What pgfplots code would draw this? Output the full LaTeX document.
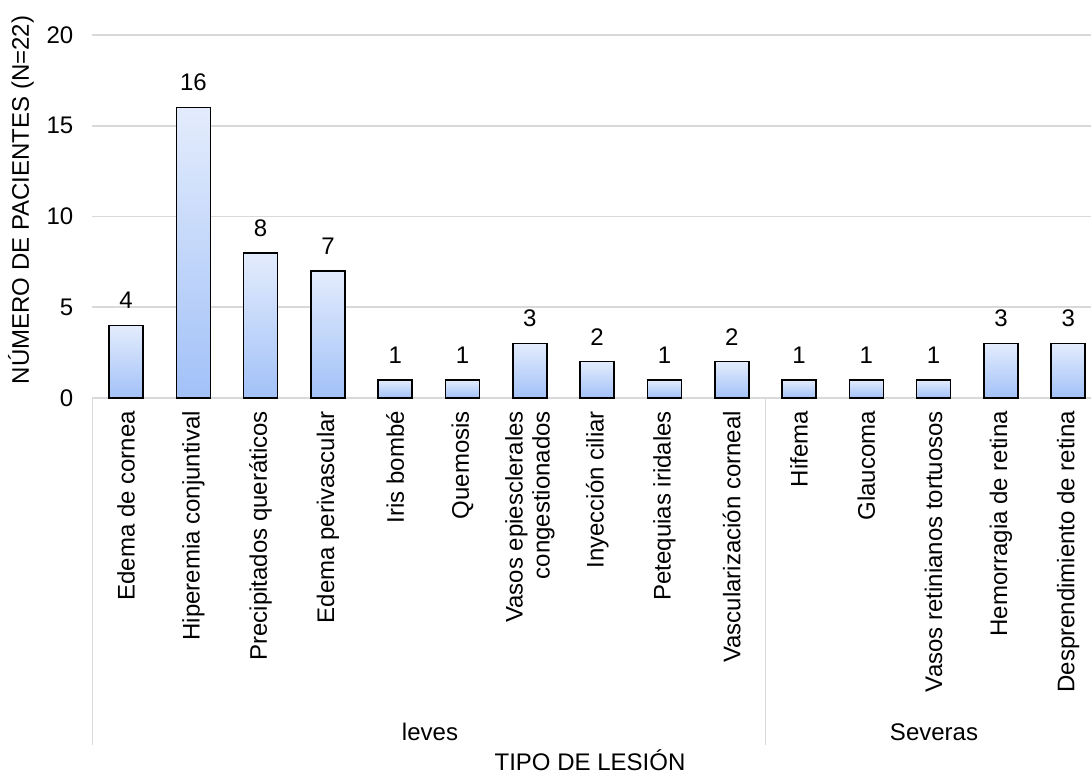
\documentclass[border=0pt]{standalone}
\usepackage{pgfplots}
\pgfplotsset{compat=1.18}
\usepackage{fontspec}
\setmainfont{Liberation Sans}
\definecolor{gridgray}{HTML}{D9D9D9}
\definecolor{bartop}{HTML}{E3ECFC}
\definecolor{barbot}{HTML}{A2C1F8}
\pgfplotsset{mybar/.style={ybar, bar shift=0pt, bar width=17pt, draw=black, line width=0.8pt, top color=bartop, bottom color=barbot, forget plot}}
\begin{document}
\begin{tikzpicture}[font=\fontsize{12}{14}\selectfont]
\path[use as bounding box] (0,0) rectangle (545.5pt,387pt);
\begin{axis}[
  at={(46.2pt,188pt)}, anchor=south west,
  scale only axis, width=504.75pt, height=181.5pt,
  xmin=-0.5, xmax=14.5, ymin=0, ymax=20,
  ytick={0,5,10,15,20},
  ymajorgrids, grid style={gridgray, line width=0.8pt},
  axis x line*=bottom, axis y line*=left,
  y axis line style={draw=none},
  x axis line style={gridgray, line width=0.8pt, -},
  xtick={0,...,14}, xtick style={draw=none}, ytick style={draw=none},
  xticklabels={Edema de cornea, Hiperemia conjuntival, Precipitados queráticos, Edema perivascular, Iris bombé, Quemosis, {Vasos epiesclerales\\congestionados}, Inyección ciliar, Petequias iridales, Vascularización corneal, Hifema, Glaucoma, Vasos retinianos tortuosos, Hemorragia de retina, Desprendimiento de retina},
  xticklabel style={rotate=90, anchor=east, align=right, font=\fontsize{12}{13.5}\selectfont},
  xticklabel shift=3pt,
  yticklabel style={font=\fontsize{12}{14}\selectfont},
  yticklabel shift=6pt,
  /pgf/number format/assume math mode=true,
  nodes near coords, nodes near coords style={font=\fontsize{12}{14}\selectfont, yshift=4.5pt},
  clip=false,
]
\addplot[mybar] coordinates {(0,4)};
\addplot[mybar] coordinates {(1,16)};
\addplot[mybar] coordinates {(2,8)};
\addplot[mybar] coordinates {(3,7)};
\addplot[mybar] coordinates {(4,1)};
\addplot[mybar] coordinates {(5,1)};
\addplot[mybar] coordinates {(6,3)};
\addplot[mybar] coordinates {(7,2)};
\addplot[mybar] coordinates {(8,1)};
\addplot[mybar] coordinates {(9,2)};
\addplot[mybar] coordinates {(10,1)};
\addplot[mybar] coordinates {(11,1)};
\addplot[mybar] coordinates {(12,1)};
\addplot[mybar] coordinates {(13,3)};
\addplot[mybar] coordinates {(14,3)};
\coordinate (s0) at (axis cs:-0.5,0);
\coordinate (s1) at (axis cs:9.5,0);
\end{axis}
\draw[gridgray, line width=0.8pt] (s0) -- ++(0,-173.5pt);
\draw[gridgray, line width=0.8pt] (s1) -- ++(0,-173.5pt);
\node at (215pt,21pt) {leves};
\node at (467pt,21pt) {Severas};
\node at (295pt,7pt) {TIPO DE LESIÓN};
\node[rotate=90] at (10.5pt,287pt) {NÚMERO DE PACIENTES (N=22)};
\end{tikzpicture}
\end{document}
